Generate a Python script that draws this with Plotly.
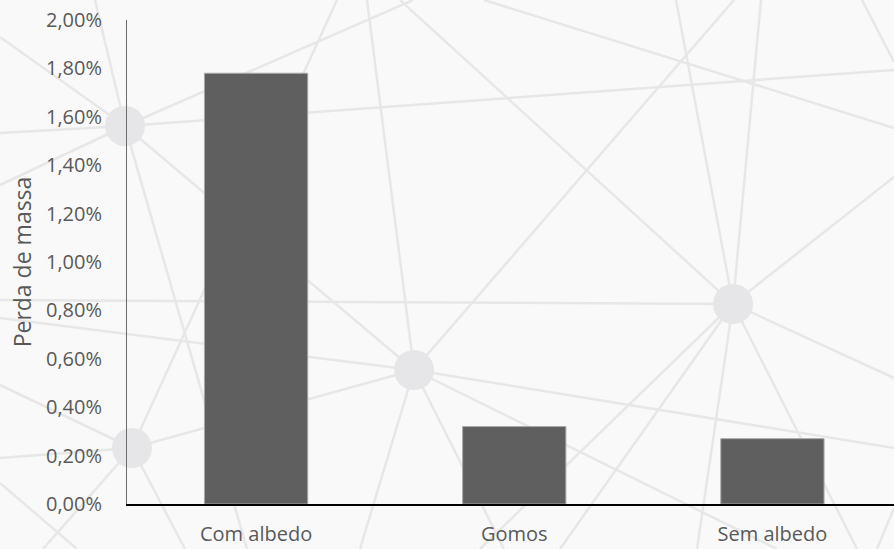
import plotly.graph_objects as go

# ---- data ----
categories = ["Com albedo", "Gomos", "Sem albedo"]
perda_massa = [0.0178, 0.0032, 0.0027]
y_tick_values = [0.0, 0.002, 0.004, 0.006, 0.008, 0.010, 0.012, 0.014, 0.016, 0.018, 0.020]

# ---- layout geometry (pixels) ----
W, H = 894, 549
ML, MR, MT, MB = 127, 0, 20, 45
PW, PH = W - ML - MR, H - MT - MB


def px_x(px):
    return (px - ML) / PW


def px_y(py):
    return (H - MB - py) / PH


# ---- decorative background network (pixel positions) ----
bg_nodes = {"A": (125, 126), "B": (132, 448), "C": (414, 370), "D": (733, 304)}
bg_segments = [
    ((0, 37), "A"), ((0, 133), "A"), ((0, 185), "A"), ((95, 0), "A"),
    ("A", (894, 70)), ("A", (413, 0)), ("A", "C"), ("A", (247, 549)),
    ((367, 0), "C"), ("B", (337, 0)), ((400, 0), "D"), ((484, 0), (894, 128)),
    ("C", (734, 0)), ((676, 0), "D"), ((761, 0), "D"), ((862, 0), (894, 62)),
    ((894, 177), "D"), ((0, 300), "D"), ((0, 318), "C"), ("C", (894, 448)),
    ("C", (777, 549)), ("D", (857, 549)), ("D", (894, 378)), ("D", (697, 549)),
    ("D", (480, 549)), ("D", (560, 549)), ((0, 385), "B"), ((0, 458), "B"),
    ((0, 483), (77, 549)), ((43, 549), "B"), ("B", (185, 549)), ("B", "C"),
    ("C", (360, 549)), ("C", (504, 549)), ((894, 508), (877, 549)),
]
node_radius = 20


def pt(p):
    return bg_nodes[p] if isinstance(p, str) else p


shapes = []
for a, b in bg_segments:
    (x0, y0), (x1, y1) = pt(a), pt(b)
    shapes.append(dict(type="line", xref="paper", yref="paper",
                       x0=px_x(x0), y0=px_y(y0), x1=px_x(x1), y1=px_y(y1),
                       line=dict(color="#e7e7e7", width=2.5), layer="below"))
for (cx, cy) in bg_nodes.values():
    shapes.append(dict(type="circle", xref="paper", yref="paper",
                       x0=px_x(cx - node_radius), x1=px_x(cx + node_radius),
                       y0=px_y(cy + node_radius), y1=px_y(cy - node_radius),
                       fillcolor="#e6e6e8", line=dict(width=0), layer="below"))

fig = go.Figure(go.Bar(
    x=categories, y=perda_massa, width=0.4,
    marker=dict(color="#5f5f5f", line=dict(color="#a8a8a8", width=1)),
))

text_color = "#595959"
fig.update_layout(
    width=W, height=H,
    margin=dict(l=ML, r=MR, t=MT, b=MB, pad=0),
    paper_bgcolor="#f9f9f9", plot_bgcolor="rgba(0,0,0,0)",
    font=dict(family="Open Sans", color=text_color, size=20),
    separators=",.",
    showlegend=False,
    shapes=shapes,
    xaxis=dict(range=[-0.5, len(categories) - 0.5 - 7.5 / 258],
               showline=True, linecolor="#000000", linewidth=2,
               showgrid=False, zeroline=False, ticks="",
               ticklabelstandoff=11,
               tickfont=dict(size=20, color=text_color)),
    yaxis=dict(range=[0, 0.02], tickvals=y_tick_values, tickformat=".2%",
               showline=True, linecolor="#6b6b6b", linewidth=1,
               showgrid=False, zeroline=False, ticks="",
               ticklabelstandoff=20,
               tickfont=dict(size=20, color=text_color),
               title=dict(text="Perda de massa", standoff=7,
                          font=dict(size=23, color=text_color))),
)

fig.write_html("out.html")
